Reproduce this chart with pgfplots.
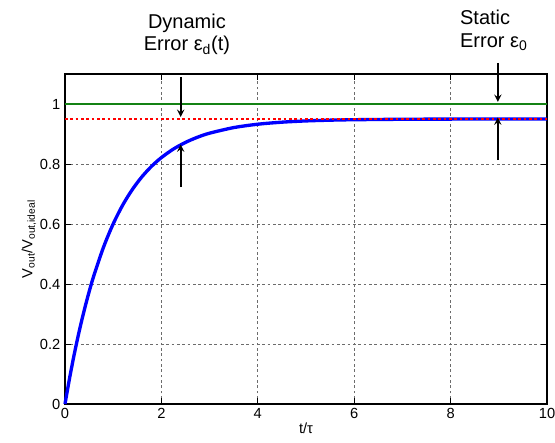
\documentclass[border=0pt]{standalone}
\usepackage{fontspec}
\setmainfont{Liberation Sans}
\usepackage{pgfplots}
\pgfplotsset{compat=1.18}
\definecolor{mgreen}{RGB}{20,130,20}
\begin{document}
\begin{tikzpicture}[x=0.75pt,y=0.75pt]
\useasboundingbox (-65,-38) rectangle (490,404);
\begin{axis}[
    at={(0,0)}, anchor=south west,
    scale only axis,
    width=361.5pt, height=247.5pt,
    xmin=0, xmax=10, ymin=0, ymax=1.1,
    xtick={0,2,...,10},
    ytick={0,0.2,0.4,0.6,0.8,1},
    tick align=inside,
    grid=major,
    major grid style={dash pattern=on 2pt off 2pt, gray!85!black, line width=0.5pt},
    axis line style={line width=1.2pt},
    every tick/.style={black, line width=0.6pt},
    tick label style={font=\fontsize{11}{12}\selectfont},
    /pgf/number format/assume math mode=true,
    xlabel={t/τ},
    ylabel={V\textsubscript{out}/V\textsubscript{out,ideal}},
    label style={font=\fontsize{11}{12}\selectfont},
    xlabel style={yshift=4pt},
    ylabel style={yshift=-4pt},
    clip=false,
]
\addplot[mgreen, line width=1.9pt] coordinates {(0,1) (10,1)};
\addplot[blue, line width=2.5pt, smooth] coordinates {
(0,0) (0.1,0.0904) (0.2,0.1722) (0.3,0.2462) (0.4,0.3132) (0.5,0.3738)
(0.6,0.4286) (0.8,0.5231) (1.0,0.6005) (1.2,0.6639) (1.4,0.7157)
(1.6,0.7582) (1.8,0.7930) (2.0,0.8214) (2.25,0.8499) (2.5,0.8720)
(2.75,0.8893) (3.0,0.9027) (3.5,0.9213) (4.0,0.9326) (4.5,0.9394)
(5.0,0.9436) (5.5,0.9461) (6.0,0.9476) (7.0,0.9491) (8.0,0.9497)
(9.0,0.9499) (10,0.95)
};
\addplot[red, line width=2pt, dash pattern=on 2pt off 2pt] coordinates {(0,0.95) (10,0.95)};
% annotations
\draw[-stealth, line width=1.4pt] (axis cs:2.4,1.09) -- (axis cs:2.4,0.957);
\draw[-stealth, line width=1.4pt] (axis cs:2.4,0.723) -- (axis cs:2.4,0.865);
\draw[-stealth, line width=1.4pt] (axis cs:8.98,1.137) -- (axis cs:8.98,1.007);
\draw[-stealth, line width=1.4pt] (axis cs:8.98,0.813) -- (axis cs:8.98,0.955);
\node[font=\fontsize{15}{17}\selectfont, align=center, anchor=center]
  at (axis cs:2.53,1.232) {Dynamic\\Error ε\textsubscript{d}(t)};
\node[font=\fontsize{15}{17}\selectfont, align=left, anchor=west]
  at (axis cs:8.1,1.245) {Static\\Error ε\textsubscript{0}};
\end{axis}
\end{tikzpicture}
\end{document}
